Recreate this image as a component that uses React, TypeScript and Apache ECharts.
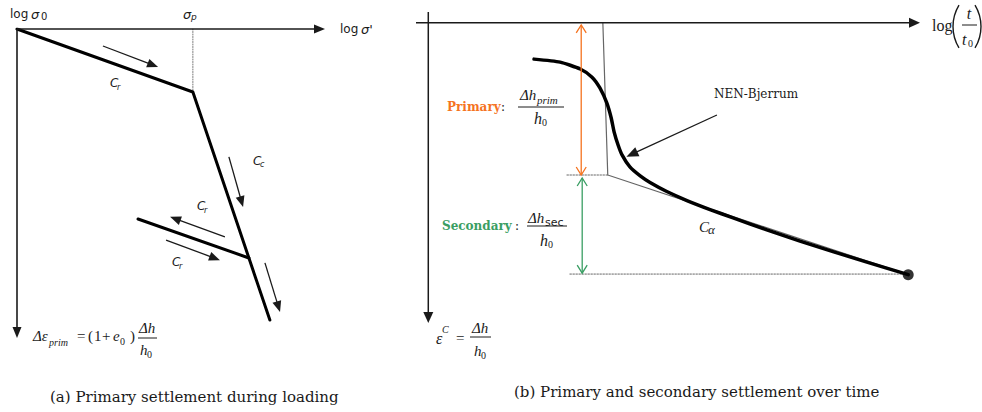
import React, { useEffect, useRef } from "react";
import * as echarts from "echarts";

// ---------- Panel (a): primary settlement during loading ----------
// x: log σ' (0..10, σ0 at 0), y: Δε (0..10, downward)
const leftAxes = [
  [0, 0, 10, 0],
  [0, 0, 0, 10],
];
const loadingPath = [
  [0, 0],
  [5.71, 2.04],
  [8.21, 9.42],
];
const unloadPath = [
  [3.93, 6.15],
  [7.53, 7.41],
];
const preconLine = [
  [5.71, 0],
  [5.71, 2.04],
];
const leftArrows = [
  [2.79, 0.55, 4.58, 1.23],
  [6.88, 4.14, 7.34, 5.76],
  [6.75, 6.73, 4.97, 6.08],
  [4.84, 6.83, 6.59, 7.48],
  [8.05, 7.57, 8.54, 9.16],
];

// ---------- Panel (b): primary and secondary settlement over time ----------
// x: log(t/t0), y: ε^C (downward)
const rightAxes = [
  [-0.25, 0, 10, 0],
  [0, -0.36, 0, 10],
];
const bjerrumCurve = [
  [2.15, 1.21], [2.68, 1.31], [3.09, 1.54], [3.33, 1.81], [3.49, 2.17],
  [3.63, 2.67], [3.72, 3.17], [3.78, 3.64], [3.86, 4.07], [3.94, 4.4],
  [4.1, 4.8], [4.31, 5.1], [4.51, 5.32], [4.85, 5.62], [5.26, 5.92],
  [5.73, 6.22], [6.2, 6.5], [6.87, 6.89], [7.56, 7.27], [8.23, 7.62],
  [8.92, 7.97], [9.76, 8.39],
];
const tangentLine = [
  [3.55, 0],
  [3.65, 5.07],
  [9.76, 8.39],
];
const primaryLevel = [
  [2.82, 5.07],
  [3.65, 5.07],
];
const finalLevel = [
  [2.88, 8.37],
  [9.76, 8.37],
];
const endPoint = [[9.76, 8.39]];
const primaryArrow = [[3.11, 0.07, 3.11, 5.07]];
const secondaryArrow = [[3.13, 5.17, 3.13, 8.34]];
const pointerArrow = [[5.87, 3.07, 4.03, 4.46]];

const ORANGE = "#f5731f";
const GREEN = "#3a9e63";
const INK = "#1a1a1a";

type ArrowOpts = {
  lw: number;
  color: string;
  len: number;
  half: number;
  open?: boolean;
  both?: boolean;
};

function arrowRenderer(o: ArrowOpts) {
  return (_params: any, api: any) => {
    const a = api.coord([api.value(0), api.value(1)]);
    const b = api.coord([api.value(2), api.value(3)]);
    const dx = b[0] - a[0];
    const dy = b[1] - a[1];
    const L = Math.hypot(dx, dy) || 1;
    const ux = dx / L;
    const uy = dy / L;
    const head = (tip: number[], dxu: number, dyu: number) => {
      const bx = tip[0] - dxu * o.len;
      const by = tip[1] - dyu * o.len;
      const p1 = [bx - dyu * o.half, by + dxu * o.half];
      const p2 = [bx + dyu * o.half, by - dxu * o.half];
      if (o.open) {
        return {
          type: "polyline",
          shape: { points: [p1, tip, p2] },
          style: { stroke: o.color, lineWidth: o.lw, fill: "none" },
        };
      }
      return {
        type: "polygon",
        shape: { points: [tip, p1, p2] },
        style: { fill: o.color, stroke: "none" },
      };
    };
    const endTrim = o.open ? 0 : o.len * 0.8;
    const startTrim = o.open || !o.both ? 0 : o.len * 0.8;
    const children: any[] = [
      {
        type: "line",
        shape: {
          x1: a[0] + ux * startTrim,
          y1: a[1] + uy * startTrim,
          x2: b[0] - ux * endTrim,
          y2: b[1] - uy * endTrim,
        },
        style: { stroke: o.color, lineWidth: o.lw },
      },
      head(b, ux, uy),
    ];
    if (o.both) children.push(head(a, -ux, -uy));
    return { type: "group", children };
  };
}

const HAND = "'DejaVu Sans'";
const MATH = "'Liberation Serif'";
const SLAB = "'DejaVu Serif'";

function T(x: number, y: number, text: string, font: string, fill = INK, align = "left") {
  return {
    type: "text",
    x,
    y,
    silent: true,
    style: {
      text,
      font,
      fill,
      textAlign: align,
      textVerticalAlign: "middle",
      align,
      verticalAlign: "middle",
    },
  };
}
function bar(x1: number, x2: number, y: number, w = 1) {
  return {
    type: "line",
    silent: true,
    shape: { x1, y1: y, x2, y2: y },
    style: { stroke: INK, lineWidth: w },
  };
}
function paren(cx: number, cy: number, r: number, a0: number, a1: number) {
  return {
    type: "arc",
    silent: true,
    shape: { cx, cy, r, startAngle: a0, endAngle: a1 },
    style: { stroke: INK, lineWidth: 1.4, fill: "none" },
  };
}

const graphics: any[] = [
  // panel (a) labels
  T(10, 14, "log", `12px ${HAND}`),
  T(31, 14, "σ", `italic 13px ${HAND}`),
  T(41, 16, "0", `10px ${HAND}`),
  T(183, 14, "σ", `italic 13px ${HAND}`),
  T(191, 17, "p", `italic 9px ${HAND}`),
  T(340, 29, "log", `12px ${HAND}`),
  T(361, 29, "σ'", `italic 13px ${HAND}`),
  T(110, 83, "C", `italic 12px ${HAND}`),
  T(117, 87, "r", `italic 8px ${HAND}`),
  T(253, 161, "C", `italic 12px ${HAND}`),
  T(260, 164, "c", `italic 8px ${HAND}`),
  T(197, 206, "C", `italic 12px ${HAND}`),
  T(204, 210, "r", `italic 8px ${HAND}`),
  T(172, 262, "C", `italic 12px ${HAND}`),
  T(179, 266, "r", `italic 8px ${HAND}`),
  // Δε_prim = (1+e0) Δh/h0
  T(33, 336, "Δε", `italic 15px ${MATH}`),
  T(49, 342, "prim", `italic 10px ${MATH}`),
  T(77, 336, "=", `15px ${MATH}`),
  T(88, 336, "(", `15px ${MATH}`),
  T(94, 336, "1", `15px ${MATH}`),
  T(102, 336, "+", `15px ${MATH}`),
  T(113, 336, "e", `italic 15px ${MATH}`),
  T(120, 341, "0", `10px ${MATH}`),
  T(130, 336, ")", `15px ${MATH}`),
  T(139, 328, "Δh", `italic 15px ${MATH}`),
  bar(138, 157, 338),
  T(140, 350, "h", `italic 15px ${MATH}`),
  T(147, 354, "0", `10px ${MATH}`),

  // panel (b) labels
  T(932, 25, "log", `16px ${MATH}`),
  paren(994.5, 26.5, 41.5, Math.PI - 0.544, Math.PI + 0.544),
  paren(939.5, 26.5, 41.5, -0.544, 0.544),
  T(969, 13, "t", `italic 16px ${MATH}`, INK, "center"),
  bar(962, 977, 25),
  T(962, 39, "t", `italic 16px ${MATH}`),
  T(968, 43, "0", `10px ${MATH}`),

  T(447, 107, "Primary", `bold 12px ${SLAB}`, ORANGE),
  T(501, 107, ":", `12px ${SLAB}`),
  T(520, 95, "Δh", `italic 15px ${MATH}`),
  T(537, 100, "prim", `italic 11px ${MATH}`),
  bar(518, 564, 107),
  T(534, 118, "h", `italic 16px ${MATH}`),
  T(542, 122, "0", `10px ${MATH}`),

  T(442, 226, "Secondary", `bold 12px ${SLAB}`, GREEN),
  T(515, 226, ":", `12px ${SLAB}`),
  T(528, 218, "Δh", `italic 15px ${MATH}`),
  T(545, 222, "sec", `11px ${HAND}`),
  bar(527, 567, 226),
  T(540, 240, "h", `italic 16px ${MATH}`),
  T(548, 244, "0", `10px ${MATH}`),

  T(436, 338, "ε", `italic 16px ${MATH}`),
  T(442, 329, "C", `italic 10px ${MATH}`),
  T(456, 338, "=", `15px ${MATH}`),
  T(472, 328, "Δh", `italic 15px ${MATH}`),
  bar(470, 491, 337),
  T(474, 351, "h", `italic 15px ${MATH}`),
  T(481, 355, "0", `10px ${MATH}`),

  T(699, 227, "C", `italic 15px ${MATH}`),
  T(708, 229, "α", `italic 13px ${MATH}`),
  T(714, 94, "NEN-Bjerrum", `12px ${SLAB}`),

  // captions
  T(50, 397, "(a) Primary settlement during loading", `15px ${SLAB}`),
  T(514, 392, "(b) Primary and secondary settlement over time", `15px ${SLAB}`),
];

function lineSeries(data: number[][], idx: number, width: number, color: string, type: any = "solid", smooth: any = false) {
  return {
    type: "line",
    xAxisIndex: idx,
    yAxisIndex: idx,
    data,
    symbol: "none",
    showSymbol: false,
    smooth,
    silent: true,
    lineStyle: { width, color, type, cap: "round", join: "round" },
    z: 2,
  };
}

function arrowSeries(data: number[][], idx: number, o: ArrowOpts) {
  return {
    type: "custom",
    xAxisIndex: idx,
    yAxisIndex: idx,
    data,
    encode: { x: [0, 2], y: [1, 3] },
    renderItem: arrowRenderer(o),
    silent: true,
    clip: false,
    z: 3,
  };
}

export default function App() {
  const ref = useRef<HTMLDivElement>(null);
  useEffect(() => {
    document.body.style.margin = "0";
    if (!ref.current) return;
    const chart = echarts.init(ref.current, undefined, { renderer: "svg" });
    chart.setOption({
      animation: false,
      backgroundColor: "#ffffff",
      grid: [
        { left: 17, top: 29, width: 308, height: 309 },
        { left: 416, top: 12, width: 504, height: 311 },
      ],
      xAxis: [
        { type: "value", gridIndex: 0, min: 0, max: 10, show: false },
        { type: "value", gridIndex: 1, min: -0.25, max: 10, show: false },
      ],
      yAxis: [
        { type: "value", gridIndex: 0, min: 0, max: 10, inverse: true, show: false },
        { type: "value", gridIndex: 1, min: -0.36, max: 10, inverse: true, show: false },
      ],
      series: [
        arrowSeries(leftAxes, 0, { lw: 1.6, color: INK, len: 11, half: 4.5 }),
        lineSeries(preconLine, 0, 1, "#777", [1, 1.5]),
        lineSeries(loadingPath, 0, 3, "#000"),
        lineSeries(unloadPath, 0, 3, "#000"),
        arrowSeries(leftArrows, 0, { lw: 1.3, color: INK, len: 11, half: 4.5 }),

        arrowSeries(rightAxes, 1, { lw: 1.5, color: INK, len: 11, half: 5 }),
        lineSeries(primaryLevel, 1, 1, "#666", [1.5, 1.5]),
        lineSeries(finalLevel, 1, 1, "#666", [1.5, 1.5]),
        lineSeries(tangentLine, 1, 1.2, "#666"),
        lineSeries(bjerrumCurve, 1, 3.5, "#000", "solid", 0.2),
        {
          type: "scatter",
          xAxisIndex: 1,
          yAxisIndex: 1,
          data: endPoint,
          symbolSize: 11,
          itemStyle: { color: "#000" },
          silent: true,
          z: 4,
        },
        arrowSeries(primaryArrow, 1, { lw: 1.3, color: ORANGE, len: 8, half: 5, open: true, both: true }),
        arrowSeries(secondaryArrow, 1, { lw: 1.3, color: GREEN, len: 8, half: 5, open: true, both: true }),
        arrowSeries(pointerArrow, 1, { lw: 1.3, color: INK, len: 12, half: 5 }),
      ],
      graphic: graphics,
    });
    return () => chart.dispose();
  }, []);
  return <div ref={ref} style={{ width: 982, height: 412 }} />;
}
